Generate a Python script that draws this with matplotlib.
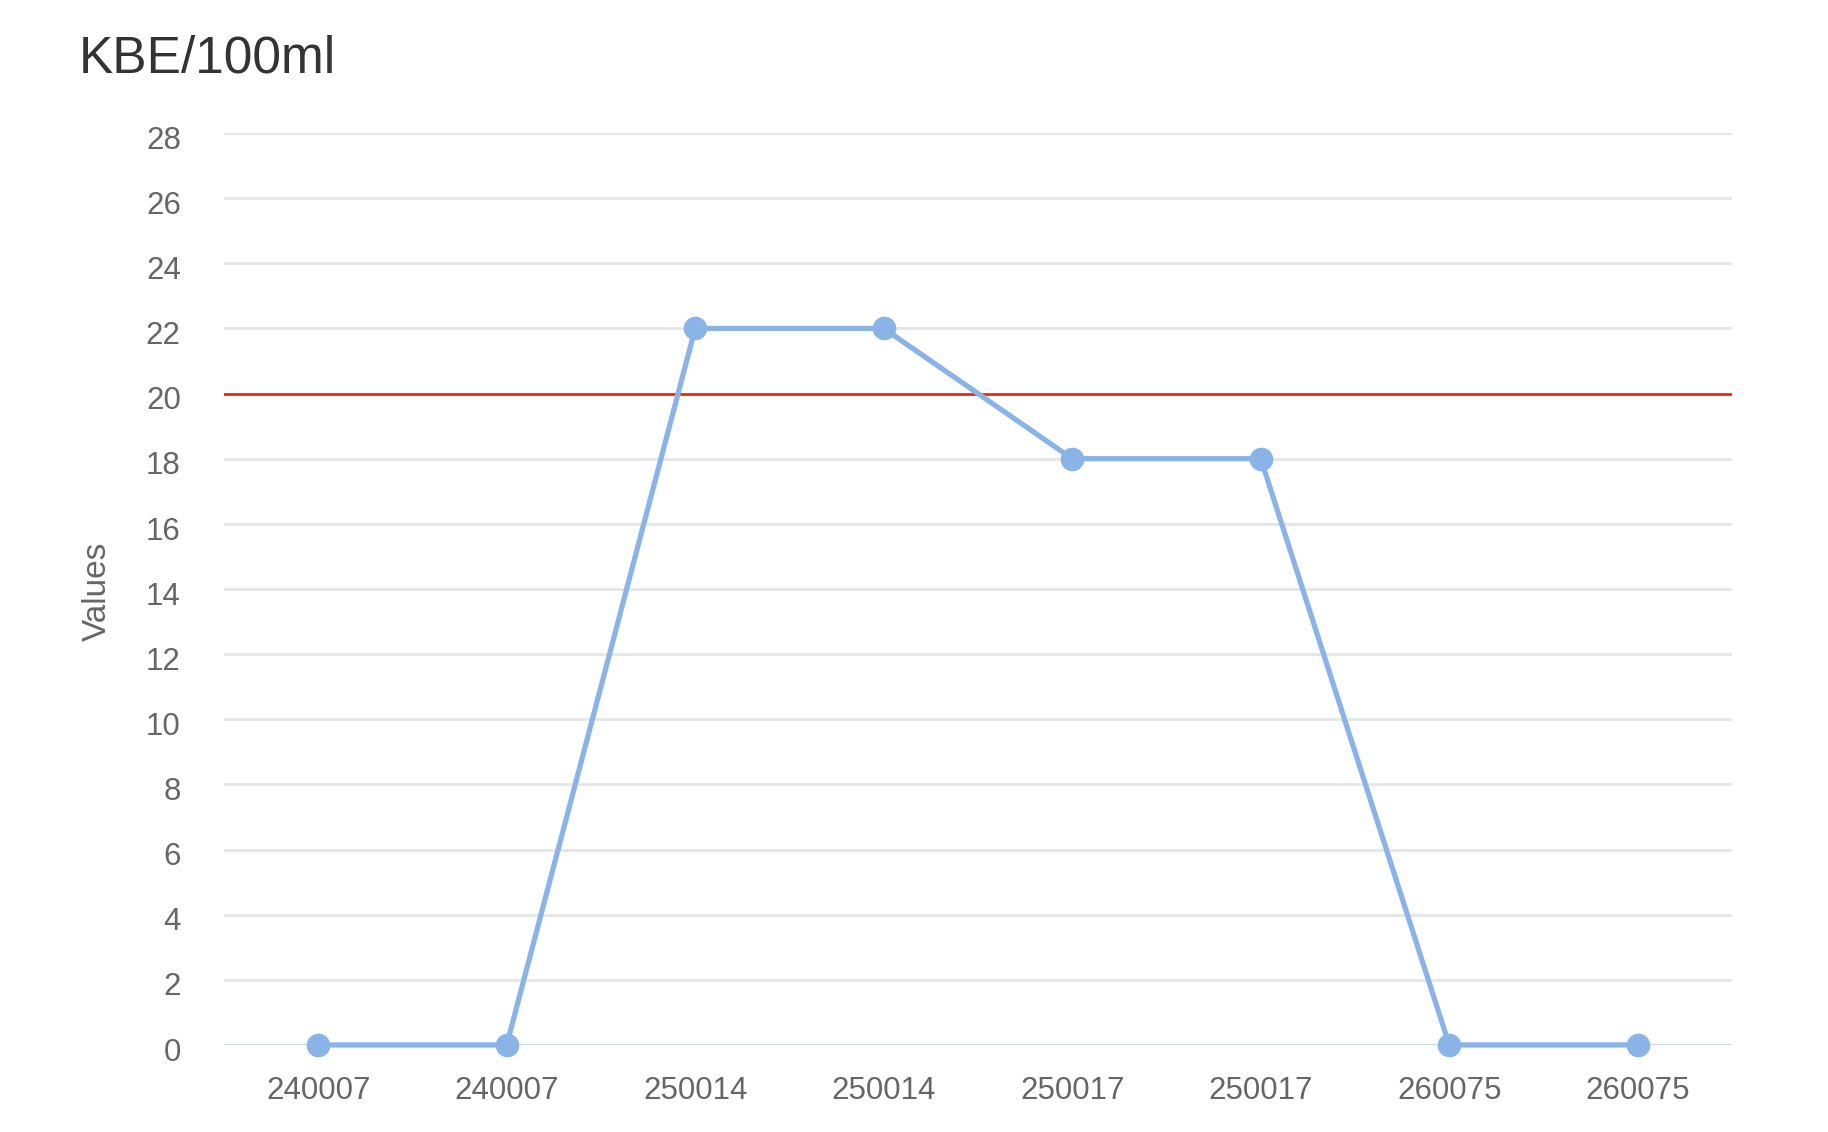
import matplotlib.pyplot as plt
import matplotlib.transforms as mtransforms

# sample ids along the x axis and measured values (KBE/100ml)
samples = ["240007", "240007", "250014", "250014", "250017", "250017", "260075", "260075"]
values = [0, 0, 22, 22, 18, 18, 0, 0]
limit = 20
y_ticks = list(range(0, 29, 2))

plt.rcParams["font.family"] = ["Liberation Sans", "DejaVu Sans"]

fig = plt.figure(figsize=(18.28, 11.32), dpi=100)
ax = fig.add_axes([0.1225, 0.0769, 0.825, 0.8056])

x = list(range(len(samples)))
ax.plot(x, values, color="#8AB4E8", linewidth=3.8, marker="o", markersize=16,
        solid_capstyle="round", zorder=4, clip_on=False)
ax.axhline(limit, color="#E8291C", linewidth=2, zorder=3)

ax.set_xlim(-0.5, len(samples) - 0.5)
ax.set_ylim(0, 28)
ax.set_xticks(x)
ax.set_xticklabels(samples)
ax.set_yticks(y_ticks)

# highcharts-like look: light grid, no frame, blueish baseline
for t in y_ticks[1:]:
    ax.axhline(t, color="#E6E6E6", linewidth=2, zorder=1)
ax.axhline(0, color="#CCD6EB", linewidth=2.2, zorder=2)
for s in ax.spines.values():
    s.set_visible(False)
ax.tick_params(axis="both", length=0, labelsize=22.5, labelcolor="#666666")
ax.tick_params(axis="x", pad=22)
ax.tick_params(axis="y", pad=31)

# y labels sit a little below their grid lines
shift = mtransforms.ScaledTranslation(0, -3 / 72, fig.dpi_scale_trans)
for lbl in ax.get_yticklabels():
    lbl.set_transform(lbl.get_transform() + shift)

fig.text(0.043, 0.936, "KBE/100ml", fontsize=37, color="#333333", va="baseline", ha="left")
fig.text(0.0535, 0.478, "Values", fontsize=24, color="#666666", rotation=90,
         va="center", ha="center")

fig.savefig("out.png", dpi=100, facecolor="white")
